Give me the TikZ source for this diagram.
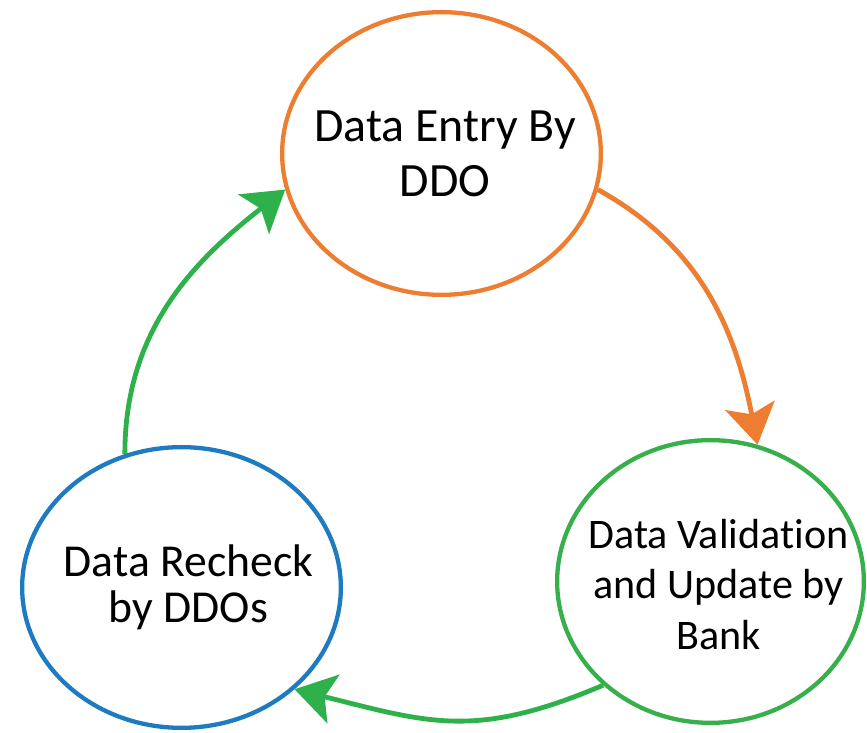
\documentclass[tikz,border=0pt]{standalone}
\usepackage{fontspec}
\setmainfont{Carlito}[Ligatures={NoCommon}]
\usetikzlibrary{shapes.geometric,arrows.meta}
\definecolor{corange}{HTML}{ED7D31}
\definecolor{cblue}{HTML}{1E7BC2}
\definecolor{cgreen}{HTML}{37AF4B}
\definecolor{cgreenarr}{HTML}{2EB14A}
\begin{document}
\begin{tikzpicture}[x=1pt,y=1pt,
  bub/.style={ellipse,draw,line width=4.3pt,inner sep=0pt,fill=white},
  lbl/.style={align=center,inner sep=0pt,text=black},
  conn/.style={line width=4.8pt,-{Stealth[length=40pt,width=50pt,inset=9pt]}}]
\useasboundingbox[fill=white] (0,0) rectangle (867,733);
% ellipses
\node[bub,draw=corange,minimum width=318.7pt,minimum height=282.7pt] (top) at (441.5,579.5) {};
\node[bub,draw=cblue,minimum width=318.7pt,minimum height=280.7pt] (left) at (181.5,145.5) {};
\node[bub,draw=cgreen,minimum width=306.7pt,minimum height=282.7pt] (right) at (710.5,151.5) {};
% texts
\node[lbl,font=\fontsize{47.8}{55}\selectfont] (toptext) at (445,579) {Data Entry By\\DDO};
\node[lbl,font=\fontsize{45.7}{46}\selectfont] (lefttext) at (188.5,145.5) {Data Recheck\\by DDOs};
\node[lbl,font=\fontsize{42.1}{50.5}\selectfont] (righttext) at (718.5,148.5) {Data Validat\kern0pt ion\\and Update by\\Bank};
% connectors
\draw[conn,draw=corange,color=corange] (top.-13) to[out=-29,in=101] (right.71);
\draw[conn,draw=cgreenarr,color=cgreenarr] (right.224) to[out=203,in=-14,looseness=1.15] (left.-42);
\draw[conn,draw=cgreenarr,color=cgreenarr] (left.113.5) to[out=90,in=218] (top.193.7);
\end{tikzpicture}
\end{document}
